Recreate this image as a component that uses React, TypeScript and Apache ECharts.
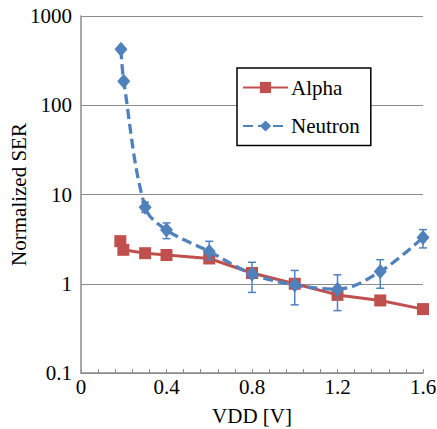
import React, { useEffect, useRef } from "react";
import * as echarts from "echarts";

const alphaData: [number, number][] = [
  [0.184, 3.0], [0.198, 2.4], [0.3, 2.2], [0.4, 2.1], [0.6, 1.92],
  [0.8, 1.32], [1.0, 1.0], [1.2, 0.75], [1.4, 0.65], [1.6, 0.52],
];
const neutronData: [number, number][] = [
  [0.187, 423], [0.2, 186], [0.3, 7.2], [0.4, 4.0], [0.6, 2.3],
  [0.8, 1.29], [1.0, 0.97], [1.2, 0.87], [1.4, 1.37], [1.6, 3.3],
];
// [x, low, high]
const neutronErr: [number, number, number][] = [
  [0.3, 6.3, 8.2], [0.4, 3.2, 4.8], [0.6, 1.86, 2.99], [0.8, 0.8, 1.74],
  [1.0, 0.58, 1.41], [1.2, 0.5, 1.26], [1.4, 0.89, 1.86], [1.6, 2.52, 4.04],
];

const FONT = "Liberation Serif";
const RED = "#C0504D";
const BLUE = "#4F81BD";

export default function App() {
  const ref = useRef<HTMLDivElement>(null);
  useEffect(() => {
    if (!ref.current) return;
    const chart = echarts.init(ref.current, undefined, { renderer: "svg" });
    chart.setOption({
      animation: false,
      textStyle: { fontFamily: FONT },
      grid: { left: 81, right: 14, top: 16, bottom: 56, containLabel: false, outerBoundsMode: "none" },
      legend: {
        orient: "vertical",
        left: 237,
        top: 68,
        padding: [9, 11, 9, 5],
        itemGap: 17.5,
        itemWidth: 45,
        itemHeight: 14,
        borderColor: "#000",
        borderWidth: 1.5,
        backgroundColor: "#fff",
        textStyle: { fontFamily: FONT, fontSize: 21, color: "#000", padding: [0, 0, 0, -2] },
        data: ["Alpha", "Neutron"],
      },
      xAxis: {
        type: "value",
        min: 0,
        max: 1.6,
        interval: 0.4,
        name: "VDD [V]",
        nameLocation: "middle",
        nameGap: 32,
        nameMoveOverlap: false,
        nameTextStyle: { fontFamily: FONT, fontSize: 21, color: "#000" },
        axisLine: { show: true, lineStyle: { color: "#8c8c8c", width: 1.5 } },
        axisTick: { show: true, inside: true, length: 4, lineStyle: { color: "#8c8c8c" } },
        minorTick: { show: true, splitNumber: 5, length: 4, lineStyle: { color: "#8c8c8c" } },
        splitLine: { show: false },
        axisLabel: {
          fontFamily: FONT, fontSize: 21, color: "#000", margin: 3,
          formatter: (v: number) => String(+v.toFixed(1)),
        },
      },
      yAxis: {
        type: "log",
        logBase: 10,
        min: 0.1,
        max: 1000,
        name: "Normalized SER",
        nameLocation: "middle",
        nameGap: 52,
        nameMoveOverlap: false,
        nameTextStyle: { fontFamily: FONT, fontSize: 21, color: "#000" },
        axisLine: { show: true, lineStyle: { color: "#8c8c8c", width: 1.5 } },
        axisTick: { show: false },
        splitLine: { show: true, lineStyle: { color: "#8c8c8c", width: 1.2 } },
        axisLabel: {
          fontFamily: FONT, fontSize: 21, color: "#000", margin: 9,
          formatter: (v: number) => String(v),
        },
      },
      series: [
        {
          name: "Alpha",
          type: "line",
          data: alphaData,
          symbol: "rect",
          symbolSize: 12,
          itemStyle: { color: RED },
          lineStyle: { color: RED, width: 3 },
          z: 3,
        },
        {
          name: "errbars",
          type: "custom",
          data: neutronErr,
          z: 4,
          silent: true,
          renderItem: (params: any, api: any) => {
            const x = api.value(0);
            const lo = api.coord([x, api.value(1)]);
            const hi = api.coord([x, api.value(2)]);
            const c = 4;
            const style = { stroke: BLUE, lineWidth: 1.5, fill: "none" };
            return {
              type: "group",
              children: [
                { type: "line", shape: { x1: lo[0], y1: lo[1], x2: hi[0], y2: hi[1] }, style },
                { type: "line", shape: { x1: lo[0] - c, y1: lo[1], x2: lo[0] + c, y2: lo[1] }, style },
                { type: "line", shape: { x1: hi[0] - c, y1: hi[1], x2: hi[0] + c, y2: hi[1] }, style },
              ],
            };
          },
        },
        {
          name: "Neutron",
          type: "line",
          data: neutronData,
          smooth: 0.35,
          symbol: "diamond",
          symbolSize: [13, 15],
          itemStyle: { color: BLUE },
          lineStyle: { color: BLUE, width: 3.3, type: [10, 5] },
          z: 5,
        },
      ],
    });
    return () => chart.dispose();
  }, []);
  return <div ref={ref} style={{ width: 437, height: 429, position: "absolute", left: 0, top: 0 }} />;
}
